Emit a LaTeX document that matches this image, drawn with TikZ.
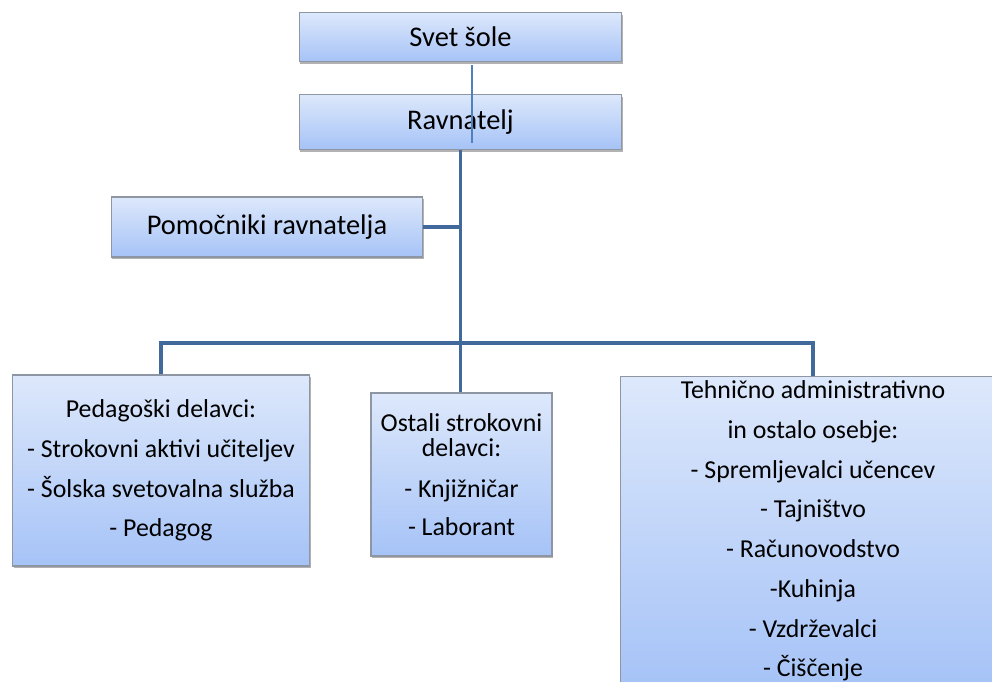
\documentclass[tikz,border=0pt]{standalone}
\usepackage{fontspec}
\setmainfont{Carlito}
\usetikzlibrary{shadows}
\definecolor{boxtop}{HTML}{DDE8FB}
\definecolor{boxbot}{HTML}{A6C3F7}
\definecolor{boxline}{HTML}{8E96A3}
\definecolor{linkdark}{HTML}{41699C}
\definecolor{linklight}{HTML}{4F81BD}

\begin{document}
\begin{tikzpicture} [x=0.02cm, y=-0.02cm,
box/.style={draw=boxline, line width=0.6pt, top color=boxtop, bottom color=boxbot,
  drop shadow={shadow xshift=0.6pt, shadow yshift=-1.2pt, fill=black, opacity=0.3},
  inner sep=0pt, align=center},
bigtext/.style={font=\fontsize{16.2}{19}\selectfont},
smalltext/.style={font=\fontsize{14.7}{22.6}\selectfont},
conn/.style={draw=linkdark, line width=2pt},
thinconn/.style={draw=linklight, line width=1.2pt}]
\clip (0,0) rectangle (992,682);

% top of the chart
\node[box, bigtext, minimum width=6.46cm, minimum height=0.98cm] (svet) at (460.5,37) {Svet šole};
\node[box, bigtext, minimum width=6.46cm, minimum height=1.1cm] (ravnatelj) at (460.5,122) {Ravnatelj};
\node[box, bigtext, minimum width=6.24cm, minimum height=1.2cm] (pomocniki) at (267,227) {Pomočniki ravnatelja};

% lower row
\node[box, smalltext, minimum width=5.94cm, minimum height=3.82cm] (pedagoski) at (161,470.5)
  {Pedagoški delavci:\\- Strokovni aktivi učiteljev\\- Šolska svetovalna služba\\- Pedagog};
\node[box, smalltext, minimum width=3.62cm, minimum height=3.26cm] (ostali) at (461.5,474.5)
  {Ostali strokovni\\[-8pt] delavci:\\[0.7pt] - Knjižničar\\[-1pt] - Laborant};
\node[box, smalltext, minimum width=7.72cm, minimum height=6.2cm] (tehnicno) at (813,531)
  {Tehnično administrativno\\in ostalo osebje:\\- Spremljevalci učencev\\- Tajništvo\\- Računovodstvo\\-Kuhinja\\- Vzdrževalci\\- Čiščenje};

\coordinate (bus) at (0,343);

\draw[thinconn] ([xshift=0.23cm, yshift=-0.06cm]svet.south) -- ([xshift=0.23cm, yshift=0.14cm]ravnatelj.south);
\draw[conn] (ravnatelj.south) -- (ravnatelj.south |- ostali.north);
\draw[conn] (pomocniki.east) -- (pomocniki.east -| ravnatelj.south);
\draw[conn] (pedagoski.north) |- (tehnicno.north |- bus) -- (tehnicno.north);

\end{tikzpicture}
\end{document}
